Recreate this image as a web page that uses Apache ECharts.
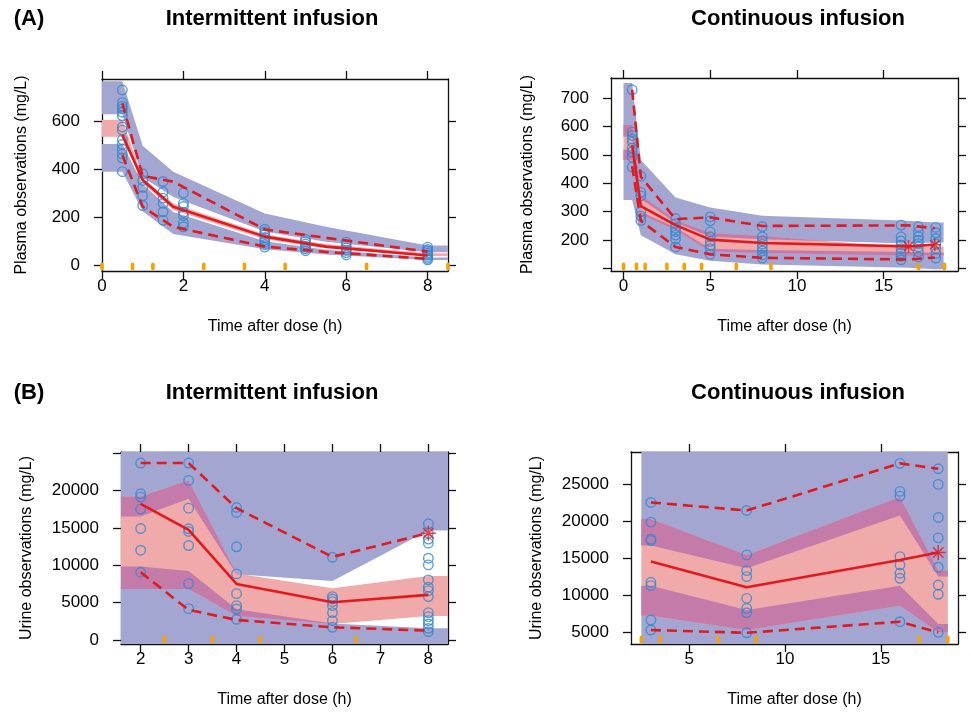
<!DOCTYPE html>
<html>
<head>
<meta charset="utf-8">
<title>VPC plasma and urine</title>
<script src="https://cdn.jsdelivr.net/npm/echarts@6/dist/echarts.min.js"></script>
<style>
html, body { margin: 0; padding: 0; background: #fff; }
#chart { width: 971px; height: 715px; }
</style>
</head>
<body>
<div id="chart"></div>
<script>
// ---------- data ----------
// (A) plasma, intermittent infusion
const a1XTicks = [0, 2, 4, 6, 8];
const a1YTicks = [0, 200, 400, 600];
const a1ObsTimes = [0.5, 1, 1.5, 2, 4, 5, 6, 8];
const a1ObsConc = [
    [733, 680, 665, 655, 640, 625, 578, 565, 525, 505, 485, 465, 448, 391],
    [382, 354, 325, 290, 249],
    [350, 306, 280, 258, 223, 187],
    [302, 258, 245, 220, 207, 176, 160],
    [150, 138, 128, 115, 105, 95, 85, 75],
    [108, 98, 88, 78, 68, 60],
    [96, 85, 72, 62, 52, 42],
    [75, 65, 58, 50, 42, 35, 28, 22]
];
const a1BinTimes = [0.5, 1, 1.75, 4, 5.5, 8];
const a1Median = [544, 356, 244, 119, 77, 40];
const a1P95 = [677, 373, 349, 149, 114, 56];
const a1P05 = [461, 244, 160, 77, 55, 26];
const a1BandTimes = [0, 0.5, 1, 1.75, 4, 5.5, 8, 8.5];
const a1HiTop = [770, 770, 500, 391, 216, 160, 82, 82];
const a1HiBottom = [631, 631, 368, 285, 140, 98, 54, 54];
const a1MedTop = [607, 607, 364, 258, 128, 88, 49, 49];
const a1MedBottom = [537, 537, 342, 230, 108, 70, 38, 38];
const a1LoTop = [507, 507, 338, 222, 100, 64, 32, 32];
const a1LoBottom = [391, 391, 225, 130, 66, 44, 21, 21];
const a1BinEdges = [0, 0.75, 1.25, 2.5, 3.5, 4.5, 6.5, 8.5];
const a1Stars = [];

// (A) plasma, continuous infusion
const a2XTicks = [0, 5, 10, 15];
const a2YTicks = [100, 200, 300, 400, 500, 600, 700];
const a2YLabels = [200, 300, 400, 500, 600, 700];
const a2ObsTimes = [0.5, 1, 3, 5, 8, 16, 17, 18];
const a2ObsConc = [
    [729, 580, 568, 556, 545, 524, 510, 492, 457],
    [425, 368, 356, 300, 285, 269],
    [276, 258, 242, 230, 218, 204, 176],
    [282, 268, 229, 212, 195, 182, 170, 150],
    [248, 212, 198, 186, 174, 162, 148, 137],
    [253, 212, 197, 183, 170, 155, 143, 131],
    [247, 229, 212, 200, 188, 176, 159, 141],
    [245, 226, 206, 188, 171, 153, 137]
];
const a2BinTimes = [0.5, 1, 3, 5, 8, 16.43, 17.94];
const a2Median = [535, 320, 253, 202, 190, 178, 184];
const a2P95 = [729, 423, 274, 280, 250, 252, 242];
const a2P05 = [460, 268, 176, 150, 138, 132, 139];
const a2BandTimes = [0, 0.5, 1, 3, 5, 8, 16.43, 17.94, 18.45];
const a2HiTop = [753, 753, 482, 350, 315, 286, 268, 262, 262];
const a2HiBottom = [564, 564, 345, 262, 212, 203, 188, 192, 192];
const a2MedTop = [606, 606, 360, 270, 225, 215, 174, 178, 178];
const a2MedBottom = [482, 482, 290, 236, 160, 155, 145, 147, 147];
const a2LoTop = [518, 518, 300, 245, 170, 165, 158, 156, 156];
const a2LoBottom = [341, 341, 217, 150, 128, 114, 103, 98, 98];
const a2BinEdges = [0, 0.75, 1.25, 2.5, 3.5, 4.5, 6.5, 8.5, 17, 18.5];
const a2Stars = [[16.43, 178], [17.94, 184]];

// (B) urine, intermittent infusion
const b1XTicks = [2, 3, 4, 5, 6, 7, 8];
const b1YTicks = [0, 5000, 10000, 15000, 20000, 25000];
const b1YLabels = [0, 5000, 10000, 15000, 20000];
const b1ObsTimes = [2, 3, 4, 6, 8];
const b1ObsConc = [
    [23660, 19550, 19110, 17500, 14910, 12010, 9060],
    [23660, 21340, 17630, 14870, 14510, 12630, 7540, 4190],
    [17720, 17050, 12460, 8840, 6200, 4600, 4150, 2770],
    [11070, 5800, 5490, 5130, 4600, 3660, 2590, 1700],
    [15540, 14290, 13490, 12950, 10940, 10040, 8040, 7060, 6600, 5800, 3660, 3120, 2590, 2140, 1560, 1110]
];
const b1BinTimes = [2, 3, 4, 6, 8];
const b1Median = [18210, 14730, 7500, 5040, 6030];
const b1P95 = [23660, 23660, 17630, 11110, 14290];
const b1P05 = [9060, 4020, 2680, 1700, 1250];
const b1BandTimes = [1, 2, 3, 4, 6, 8, 9];
const b1HiTop = [32000, 32000, 32000, 32000, 32000, 32000, 32000];
const b1HiBottom = [16520, 16520, 18880, 8800, 7900, 14640, 14640];
const b1MedTop = [19200, 19200, 21340, 8900, 6920, 8570, 8570];
const b1MedBottom = [6830, 6830, 6830, 3210, 2140, 3210, 3210];
const b1LoTop = [9820, 9820, 9240, 4110, 2200, 1560, 1560];
const b1LoBottom = [-3000, -3000, -3000, -3000, -3000, -3000, -3000];
const b1BinEdges = [2.5, 3.5, 4.5, 6.5];
const b1Stars = [[8, 14290]];

// (B) urine, continuous infusion
const b2XTicks = [5, 10, 15];
const b2YTicks = [5000, 10000, 15000, 20000, 25000];
const b2ObsTimes = [3, 8, 16, 18];
const b2ObsConc = [
    [22600, 19930, 17620, 17430, 11780, 11320, 6660, 5300],
    [21510, 15490, 13360, 12550, 9600, 8240, 7650, 4930],
    [27900, 24100, 23460, 15260, 14130, 13000, 12320, 6430],
    [27170, 25050, 20570, 17800, 13820, 11410, 10150, 4990]
];
const b2BinTimes = [3, 8, 16, 18];
const b2Median = [14580, 11100, 14800, 15810];
const b2P95 = [22600, 21510, 27900, 27170];
const b2P05 = [5300, 4930, 6430, 4990];
const b2BandTimes = [2.5, 3, 8, 16, 18, 18.5];
const b2HiTop = [35000, 35000, 35000, 35000, 35000, 35000];
const b2HiBottom = [16760, 16760, 13680, 20830, 12550, 12550];
const b2MedTop = [20340, 20340, 15490, 23330, 13360, 13360];
const b2MedBottom = [7240, 7240, 5300, 8600, 4990, 4990];
const b2LoTop = [11320, 11320, 8020, 11320, 6110, 6110];
const b2LoBottom = [0, 0, 0, 0, 0, 0];
const b2BinEdges = [2.5, 3.5, 6.5, 8.5, 17, 18.5];
const b2Stars = [[18, 15810]];

// ---------- helpers ----------
const FONT = '"Liberation Sans", Arial, sans-serif';
const RED = '#E2191E';
const BLUE_BAND = '#A4A6D2';
const RED_BAND = '#F0AAAA';
const BOTH_BAND = '#C47BA9';
const OBS_COL = '#2F88D2';
const RUG_COL = '#F5A300';
const STAR = 'path://M10 0L10 20M0 10L20 10M3 3L17 17M3 17L17 3';

function obsPairs(times, conc) {
    const out = [];
    times.forEach((t, i) => conc[i].forEach(c => out.push([t, c])));
    return out;
}

function zip(xs, ys) {
    return xs.map((x, i) => [x, ys[i]]);
}

// region shared by two bands defined on the same x vertices
function overlap(xs, loA, hiA, loB, hiB) {
    const at = (arr, i, t) => arr[i] + (arr[i + 1] - arr[i]) * t;
    const lower = (i, t) => Math.max(at(loA, i, t), at(loB, i, t));
    const upper = (i, t) => Math.min(at(hiA, i, t), at(hiB, i, t));
    const cross = (f0, f1) => (f0 * f1 < 0 ? f0 / (f0 - f1) : null);
    const ox = [], olo = [], ohi = [];
    for (let i = 0; i < xs.length - 1; i++) {
        let ts = [0, 1];
        [[loA, loB], [hiA, hiB]].forEach(pair => {
            const t = cross(pair[0][i] - pair[1][i], pair[0][i + 1] - pair[1][i + 1]);
            if (t !== null) ts.push(t);
        });
        ts.sort((a, b) => a - b);
        const all = ts.slice();
        for (let k = 0; k < ts.length - 1; k++) {
            const g0 = upper(i, ts[k]) - lower(i, ts[k]);
            const g1 = upper(i, ts[k + 1]) - lower(i, ts[k + 1]);
            const t = cross(g0, g1);
            if (t !== null) all.push(ts[k] + (ts[k + 1] - ts[k]) * t);
        }
        all.sort((a, b) => a - b);
        all.forEach(t => {
            if (i > 0 && t === 0) return;
            const lo = lower(i, t);
            ox.push(xs[i] + (xs[i + 1] - xs[i]) * t);
            olo.push(lo);
            ohi.push(Math.max(lo, upper(i, t)));
        });
    }
    return { x: ox, lo: olo, hi: ohi };
}

const panels = [
    {
        rect: { left: 102, top: 79, width: 346, height: 192 },
        x: [0, 8.5], y: [-25, 779],
        xTicks: a1XTicks, xLabels: a1XTicks, yTicks: a1YTicks, yLabels: a1YTicks,
        yName: 'Plasma observations (mg/L)', yNameGap: 72,
        obs: obsPairs(a1ObsTimes, a1ObsConc),
        bins: a1BinTimes, median: a1Median, p95: a1P95, p05: a1P05,
        bandX: a1BandTimes,
        hi: [a1HiBottom, a1HiTop], lo: [a1LoBottom, a1LoTop], med: [a1MedBottom, a1MedTop],
        edges: a1BinEdges, stars: a1Stars, starSize: 13
    },
    {
        rect: { left: 611, top: 78, width: 347, height: 193 },
        x: [-0.72, 19.28], y: [91.5, 770.6],
        xTicks: a2XTicks, xLabels: a2XTicks, yTicks: a2YTicks, yLabels: a2YLabels,
        yName: 'Plasma observations (mg/L)', yNameGap: 75,
        obs: obsPairs(a2ObsTimes, a2ObsConc),
        bins: a2BinTimes, median: a2Median, p95: a2P95, p05: a2P05,
        bandX: a2BandTimes,
        hi: [a2HiBottom, a2HiTop], lo: [a2LoBottom, a2LoTop], med: [a2MedBottom, a2MedTop],
        edges: a2BinEdges, stars: a2Stars, starSize: 13
    },
    {
        rect: { left: 121, top: 452, width: 327, height: 192 },
        x: [1.59, 8.41], y: [-536, 25140],
        xTicks: b1XTicks, xLabels: b1XTicks, yTicks: b1YTicks, yLabels: b1YLabels,
        yName: 'Urine observations (mg/L)', yNameGap: 86,
        obs: obsPairs(b1ObsTimes, b1ObsConc),
        bins: b1BinTimes, median: b1Median, p95: b1P95, p05: b1P05,
        bandX: b1BandTimes,
        hi: [b1HiBottom, b1HiTop], lo: [b1LoBottom, b1LoTop], med: [b1MedBottom, b1MedTop],
        edges: b1BinEdges, stars: b1Stars, starSize: 15
    },
    {
        rect: { left: 631, top: 452, width: 327, height: 192 },
        x: [1.96, 19.03], y: [3410, 29440],
        xTicks: b2XTicks, xLabels: b2XTicks, yTicks: b2YTicks, yLabels: b2YTicks,
        yName: 'Urine observations (mg/L)', yNameGap: 86,
        obs: obsPairs(b2ObsTimes, b2ObsConc),
        bins: b2BinTimes, median: b2Median, p95: b2P95, p05: b2P05,
        bandX: b2BandTimes,
        hi: [b2HiBottom, b2HiTop], lo: [b2LoBottom, b2LoTop], med: [b2MedBottom, b2MedTop],
        edges: b2BinEdges, stars: b2Stars, starSize: 15
    }
];

const axisLine = { show: true, onZero: false, lineStyle: { color: '#111', width: 1.3 } };
const tickOf = vals => ({
    show: true, inside: false, length: 8, customValues: vals,
    lineStyle: { color: '#111', width: 1.3 }
});
const labelOf = (vals, margin) => ({
    customValues: vals, color: '#000', fontSize: 17, fontFamily: FONT,
    margin: margin, formatter: v => String(v)
});
const nameStyle = { color: '#000', fontSize: 16, fontFamily: FONT };

function bandSeries(gi, xs, lo, hi, color, z) {
    return {
        type: 'custom', xAxisIndex: 2 * gi, yAxisIndex: 2 * gi,
        clip: true, silent: true, z: z,
        data: [[xs[0], lo[0]]],
        renderItem: function (params, api) {
            const pts = [];
            for (let i = 0; i < xs.length; i++) pts.push(api.coord([xs[i], hi[i]]));
            for (let i = xs.length - 1; i >= 0; i--) pts.push(api.coord([xs[i], lo[i]]));
            return { type: 'polygon', shape: { points: pts }, style: { fill: color } };
        }
    };
}

const grid = [], xAxis = [], yAxis = [], series = [];

panels.forEach((p, gi) => {
    grid.push(Object.assign({}, p.rect));
    xAxis.push({
        type: 'value', gridIndex: gi, position: 'bottom', min: p.x[0], max: p.x[1],
        axisLine: axisLine, axisTick: tickOf(p.xTicks), axisLabel: labelOf(p.xLabels, 7),
        splitLine: { show: false },
        name: 'Time after dose (h)', nameLocation: 'middle', nameGap: 48, nameTextStyle: nameStyle
    });
    xAxis.push({
        type: 'value', gridIndex: gi, position: 'top', min: p.x[0], max: p.x[1],
        axisLine: axisLine, axisTick: tickOf(p.xTicks), axisLabel: { show: false },
        splitLine: { show: false }
    });
    yAxis.push({
        type: 'value', gridIndex: gi, position: 'left', min: p.y[0], max: p.y[1],
        axisLine: axisLine, axisTick: tickOf(p.yTicks), axisLabel: labelOf(p.yLabels, 22),
        splitLine: { show: false },
        name: p.yName, nameLocation: 'middle', nameGap: p.yNameGap, nameTextStyle: nameStyle
    });
    yAxis.push({
        type: 'value', gridIndex: gi, position: 'right', min: p.y[0], max: p.y[1],
        axisLine: axisLine, axisTick: tickOf(p.yTicks), axisLabel: { show: false },
        splitLine: { show: false }
    });

    const ax = { xAxisIndex: 2 * gi, yAxisIndex: 2 * gi };

    // prediction interval bands, with their shared parts drawn in the mixed colour
    series.push(bandSeries(gi, p.bandX, p.hi[0], p.hi[1], BLUE_BAND, 1));
    series.push(bandSeries(gi, p.bandX, p.lo[0], p.lo[1], BLUE_BAND, 1));
    series.push(bandSeries(gi, p.bandX, p.med[0], p.med[1], RED_BAND, 1));
    [p.hi, p.lo].forEach(b => {
        const o = overlap(p.bandX, p.med[0], p.med[1], b[0], b[1]);
        series.push(bandSeries(gi, o.x, o.lo, o.hi, BOTH_BAND, 2));
    });

    // bin edges (rug)
    series.push(Object.assign({
        type: 'custom', silent: true, z: 3,
        data: p.edges,
        renderItem: function (params, api) {
            const cs = params.coordSys;
            const px = api.coord([api.value(0), p.y[0]])[0];
            return {
                type: 'rect',
                shape: { x: px - 1.8, y: cs.y + cs.height - 8.5, width: 3.6, height: 8, r: 1.8 },
                style: { fill: RUG_COL }
            };
        }
    }, ax));

    // observations
    series.push(Object.assign({
        type: 'scatter', data: p.obs, symbol: 'circle', symbolSize: 9.5, z: 4, silent: true,
        itemStyle: { color: 'rgba(0,0,0,0)', borderColor: OBS_COL, borderWidth: 1.4 }
    }, ax));

    // observed percentiles
    const lineBase = { type: 'line', showSymbol: false, symbol: 'none', silent: true, z: 5 };
    series.push(Object.assign({}, lineBase, ax, {
        data: zip(p.bins, p.p95), lineStyle: { color: RED, width: 2.6, type: [10, 6] }
    }));
    series.push(Object.assign({}, lineBase, ax, {
        data: zip(p.bins, p.p05), lineStyle: { color: RED, width: 2.6, type: [10, 6] }
    }));
    series.push(Object.assign({}, lineBase, ax, {
        data: zip(p.bins, p.median), lineStyle: { color: RED, width: 2.6 }
    }));

    // percentiles outside their confidence band
    if (p.stars.length) {
        series.push(Object.assign({
            type: 'scatter', data: p.stars, symbol: STAR, symbolSize: p.starSize, z: 6, silent: true,
            itemStyle: { color: 'rgba(0,0,0,0)', borderColor: RED, borderWidth: 1.5 }
        }, ax));
    }
});

const titleFont = 'bold 22px ' + FONT;
const textAt = (text, x, y) => ({
    type: 'text', x: x, y: y, silent: true,
    style: {
        text: text, font: titleFont, fill: '#000',
        align: 'center', verticalAlign: 'middle',
        textAlign: 'center', textVerticalAlign: 'middle'
    }
});

const chart = echarts.init(document.getElementById('chart'), null, { renderer: 'canvas' });
chart.setOption({
    backgroundColor: '#fff',
    animation: false,
    grid: grid,
    xAxis: xAxis,
    yAxis: yAxis,
    series: series,
    graphic: [
        textAt('(A)', 29, 19),
        textAt('Intermittent infusion', 272, 19),
        textAt('Continuous infusion', 798, 19),
        textAt('(B)', 29, 393),
        textAt('Intermittent infusion', 272, 393),
        textAt('Continuous infusion', 798, 393)
    ]
});
</script>
</body>
</html>
